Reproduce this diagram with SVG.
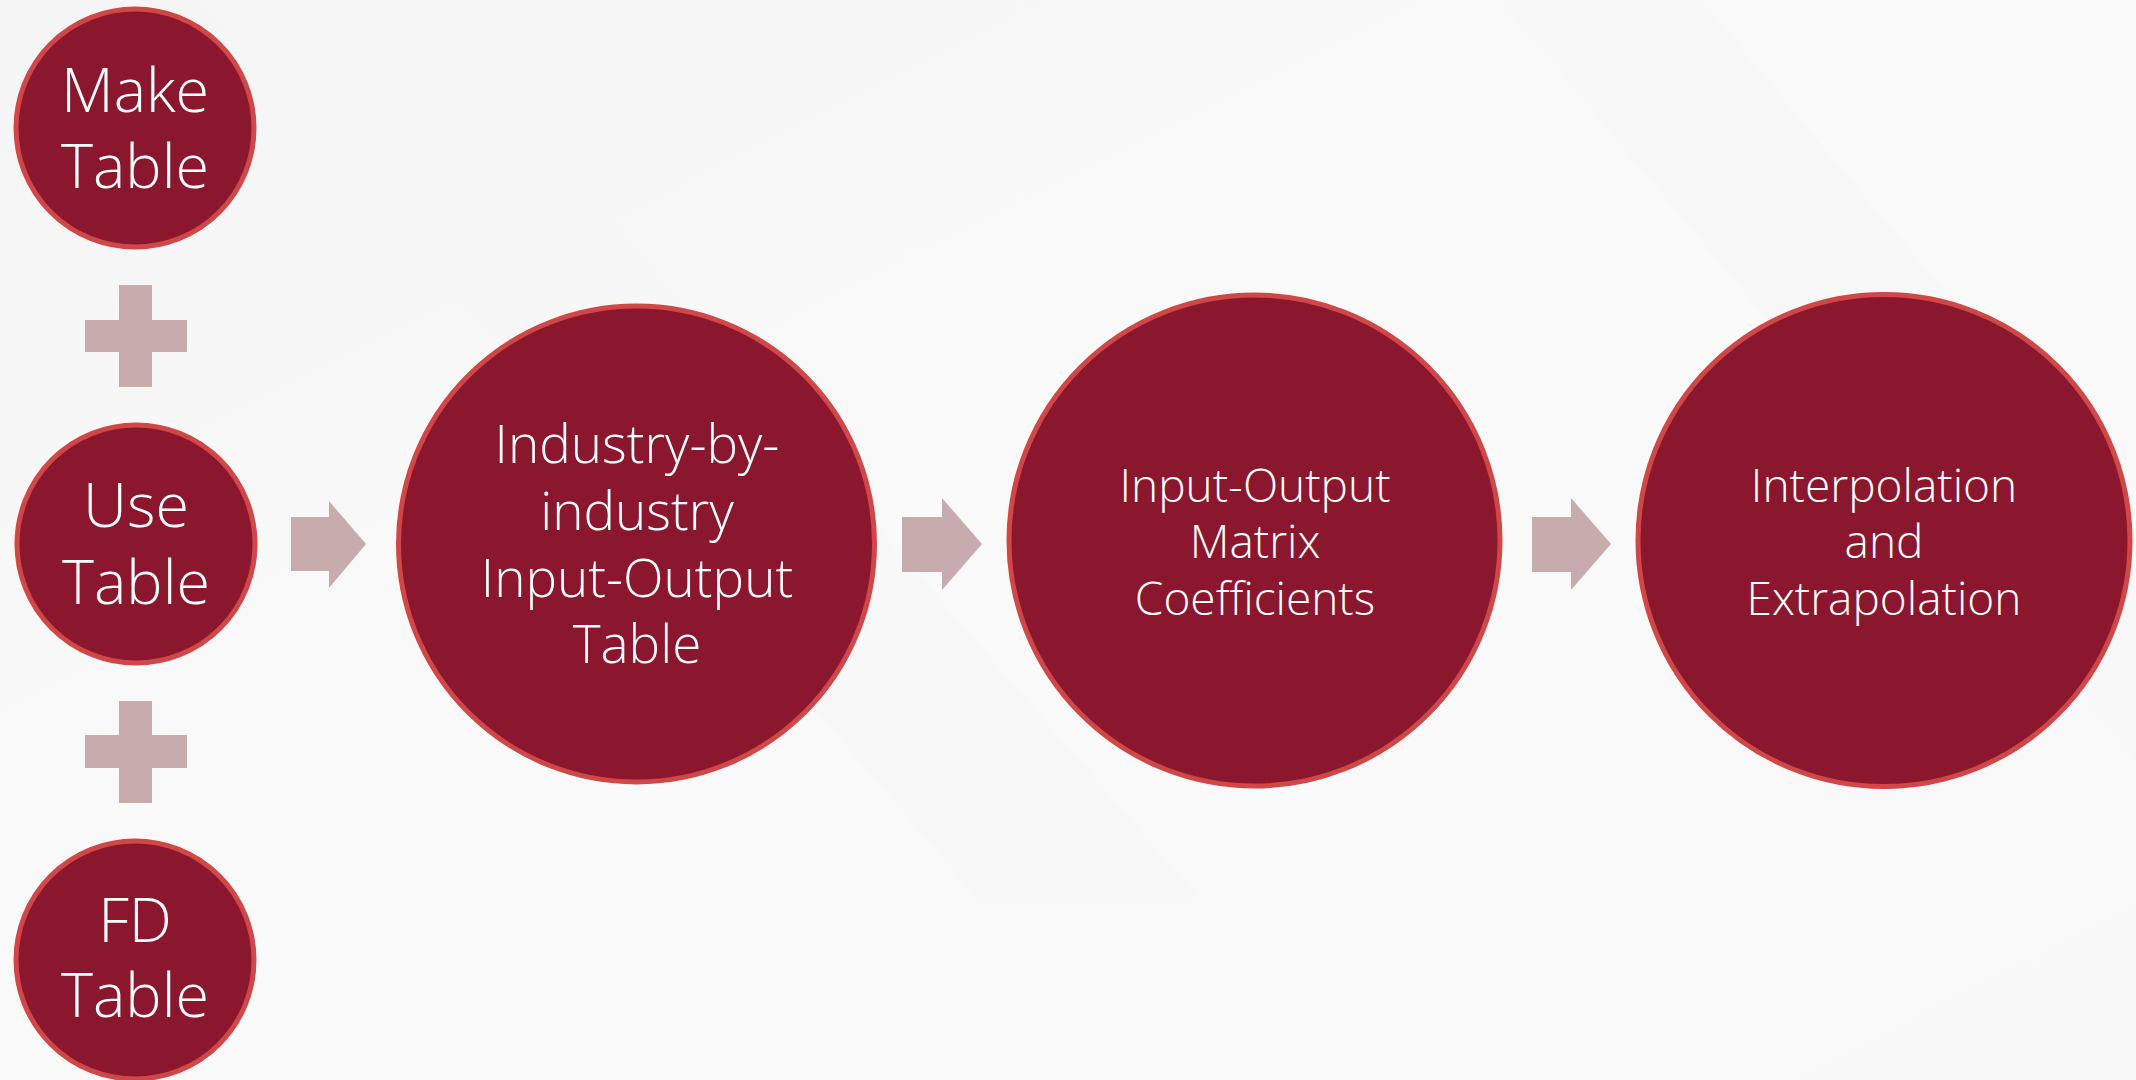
<svg xmlns="http://www.w3.org/2000/svg" width="2136" height="1080" viewBox="0 0 2136 1080">
<defs>
<linearGradient id="bg" x1="0" y1="0" x2="1" y2="1">
<stop offset="0" stop-color="#F5F5F5"/>
<stop offset="0.5" stop-color="#FAFAFA"/>
<stop offset="1" stop-color="#F8F8F8"/>
</linearGradient>
</defs>
<style>
.node{fill:#8B172E;stroke:#D04747;stroke-width:5}
.lbl{fill:#FFFFFF;font-family:"Open Sans","Segoe UI","Noto Sans",sans-serif;font-weight:300;text-anchor:middle}
.s{font-size:61px}
.m{font-size:53px}
.l{font-size:46px}
.conn{fill:#C7ABAD}
</style>
<rect width="2136" height="1080" fill="url(#bg)"/>
<g fill="#F7F7F7" opacity="0.6">
<polygon points="1500,0 1700,0 2136,520 2136,760"/>
<polygon points="200,0 420,0 1200,900 980,900"/>
</g>
<g id="connectors">
<path class="conn" d="M119,285 H152 V320 H187 V352 H152 V387 H119 V352 H85 V320 H119 Z"/>
<path class="conn" d="M119,701 H152 V735 H187 V768 H152 V803 H119 V768 H85 V735 H119 Z"/>
<path class="conn" d="M291,517 H329 V501 L366,544 L329,588 V571 H291 Z"/>
<path class="conn" d="M902,517 H942 V498 L982,544 L942,590 V572 H902 Z"/>
<path class="conn" d="M1532,517 H1571 V498 L1611,544 L1571,590 V572 H1532 Z"/>
</g>
<g id="make-table">
<circle class="node" cx="135" cy="128" r="119"/>
<text class="lbl s" x="135" y="112">Make</text>
<text class="lbl s" x="135" y="188">Table</text>
</g>
<g id="use-table">
<circle class="node" cx="136" cy="544" r="119"/>
<text class="lbl s" x="136" y="527">Use</text>
<text class="lbl s" x="136" y="604">Table</text>
</g>
<g id="fd-table">
<circle class="node" cx="135" cy="960" r="119"/>
<text class="lbl s" x="135" y="942">FD</text>
<text class="lbl s" x="135" y="1017">Table</text>
</g>
<g id="io-table">
<circle class="node" cx="636.5" cy="544" r="238"/>
<text class="lbl m" x="637" y="463">Industry-by-</text>
<text class="lbl m" x="637" y="530">industry</text>
<text class="lbl m" x="637" y="597">Input-Output</text>
<text class="lbl m" x="637" y="663">Table</text>
</g>
<g id="coefficients">
<circle class="node" cx="1254.5" cy="540.5" r="245.5"/>
<text class="lbl l" x="1255" y="502">Input-Output</text>
<text class="lbl l" x="1255" y="558">Matrix</text>
<text class="lbl l" x="1255" y="615">Coefficients</text>
</g>
<g id="interpolation">
<circle class="node" cx="1884" cy="540.5" r="246"/>
<text class="lbl l" x="1884" y="502">Interpolation</text>
<text class="lbl l" x="1884" y="558">and</text>
<text class="lbl l" x="1884" y="615">Extrapolation</text>
</g>
</svg>
